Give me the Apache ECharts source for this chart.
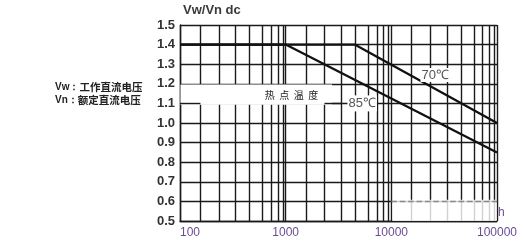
<!DOCTYPE html>
<html>
<head>
<meta charset="utf-8">
<script src="https://cdn.jsdelivr.net/npm/echarts@6/dist/echarts.min.js"></script>
<style>
  html, body { margin: 0; padding: 0; background: #fff; }
  #chart { width: 526px; height: 242px; }
</style>
</head>
<body>
<div id="chart"></div>
<script>
  // 寿命曲线数据 (h / Vw/Vn)
  var xTicks = [100, 1000, 10000, 100000];
  var yTicks = [0.5, 0.6, 0.7, 0.8, 0.9, 1.0, 1.1, 1.2, 1.3, 1.4, 1.5];
  var minorSteps = [1.56, 2.33, 3.35, 4.57, 6.05, 7.33, 8.42, 9.42]; // 每个十倍程内的网格线
  var hours85 = [100, 1000, 100000];
  var ratio85 = [1.4, 1.4, 0.85];
  var hours70 = [100, 4500, 100000];
  var ratio70 = [1.4, 1.4, 1.0];

  var gridColor = '#1a1a1a';
  var gridWidth = 1.4;
  var purple = '#6a4c93';

  function pairs(xs, ys) {
    return xs.map(function (x, i) { return [x, ys[i]]; });
  }

  // 次网格线
  var minorLines = [];
  xTicks.slice(0, -1).forEach(function (d) {
    minorSteps.forEach(function (s) { minorLines.push({ xAxis: d * s }); });
  });

  var myChart = echarts.init(document.getElementById('chart'));
  var option = {
    animation: false,
    title: [
      {
        text: 'Vw/Vn dc', left: 183, top: 4, padding: 0,
        textStyle: { fontFamily: 'Liberation Sans', fontSize: 13, fontWeight: 'bold', color: '#3a3a3a' }
      },
      {
        text: '{a|Vw：}{b|工作直流电压}', left: 55, top: 81, padding: 0,
        textStyle: {
          rich: {
            a: { fontFamily: 'Liberation Sans', fontSize: 10, fontWeight: 'bold', color: '#222', lineHeight: 13 },
            b: { fontFamily: 'Noto Sans CJK SC', fontSize: 10.5, color: '#222', lineHeight: 13 }
          }
        }
      },
      {
        text: '{a|Vn：}{b|额定直流电压}', left: 55, top: 94, padding: 0,
        textStyle: {
          rich: {
            a: { fontFamily: 'Liberation Sans', fontSize: 10, fontWeight: 'bold', color: '#222', lineHeight: 13 },
            b: { fontFamily: 'Noto Sans CJK SC', fontSize: 10.5, color: '#222', lineHeight: 13 }
          }
        }
      }
    ],
    grid: { left: 180, top: 25, width: 317, height: 196 },
    xAxis: {
      type: 'log',
      logBase: 10,
      min: xTicks[0],
      max: xTicks[xTicks.length - 1],
      name: 'h',
      nameLocation: 'end',
      nameGap: 1,
      nameTextStyle: { color: purple, fontFamily: 'Liberation Sans', fontSize: 12, verticalAlign: 'bottom', padding: [0, 0, 2, 0] },
      axisLine: { show: true, lineStyle: { color: gridColor, width: gridWidth } },
      axisTick: { show: false },
      axisLabel: {
        margin: 6,
        color: purple,
        fontFamily: 'Liberation Sans',
        fontSize: 12,
        alignMinLabel: 'left',
        formatter: function (v) { return xTicks.indexOf(v) >= 0 ? String(v) : ''; }
      },
      splitLine: { show: true, lineStyle: { color: gridColor, width: gridWidth } }
    },
    yAxis: {
      type: 'value',
      min: yTicks[0],
      max: yTicks[yTicks.length - 1],
      interval: 0.1,
      axisLine: { show: true, lineStyle: { color: gridColor, width: gridWidth } },
      axisTick: { show: false },
      axisLabel: {
        margin: 5,
        color: '#333',
        fontFamily: 'Liberation Sans',
        fontSize: 13,
        fontWeight: 'bold',
        formatter: function (v) { return v.toFixed(1); }
      },
      splitLine: { show: true, lineStyle: { color: gridColor, width: gridWidth } }
    },
    series: [
      {
        // 次网格
        name: 'grid', type: 'line', data: [], silent: true,
        markLine: {
          z: 1, silent: true, symbol: ['none', 'none'],
          label: { show: false },
          lineStyle: { color: gridColor, width: gridWidth, type: 'solid' },
          data: minorLines
        }
      },
      {
        // 遮盖区域
        name: 'mask', type: 'line', data: [], silent: true,
        markArea: {
          z: 2, silent: true,
          label: { show: false },
          itemStyle: { color: '#fff' },
          data: [
            [{ coord: [101, 1.196] }, { coord: [2750, 1.093] }],
            [{ coord: [10250, 0.608], itemStyle: { color: 'rgba(255,255,255,0.8)' } }, { coord: [99000, 0.485] }]
          ]
        },
        markLine: {
          z: 3, silent: true, symbol: ['none', 'none'],
          label: { show: false },
          lineStyle: { color: gridColor, width: gridWidth, type: 'solid' },
          data: [
            [{ coord: [100, 1.1] }, { coord: [156, 1.1] }],
            [{ coord: [2330, 1.1] }, { coord: [3350, 1.1] }],
            [{ coord: [10000, 0.6], lineStyle: { color: '#8a8a8a', type: 'dashed' } }, { coord: [100000, 0.6] }]
          ]
        }
      },
      {
        name: '85℃', type: 'line', z: 4, symbol: 'none',
        lineStyle: { color: '#111', width: 2.3 },
        data: pairs(hours85, ratio85),
        markPoint: {
          z: 5, silent: true, symbol: 'rect', symbolSize: 1,
          itemStyle: { color: 'rgba(0,0,0,0)' },
          data: [
            {
              coord: [5300, 1.1],
              label: {
                show: true, position: 'inside', formatter: '85℃',
                color: '#555', fontFamily: 'Liberation Sans', fontSize: 13,
                backgroundColor: '#fff', padding: [2, 1, 1, 1]
              }
            },
            {
              coord: [1135, 1.143],
              label: {
                show: true, position: 'inside', formatter: '热  点  温  度',
                color: '#222', fontFamily: 'Noto Sans CJK SC', fontSize: 10
              }
            }
          ]
        }
      },
      {
        name: '70℃', type: 'line', z: 4, symbol: 'none',
        lineStyle: { color: '#111', width: 2.3 },
        data: pairs(hours70, ratio70),
        markPoint: {
          z: 5, silent: true, symbol: 'rect', symbolSize: 1,
          itemStyle: { color: 'rgba(0,0,0,0)' },
          data: [
            {
              coord: [26000, 1.245],
              label: {
                show: true, position: 'inside', formatter: '70℃',
                color: '#555', fontFamily: 'Liberation Sans', fontSize: 13,
                backgroundColor: '#fff', padding: [1, 1, 0, 1]
              }
            }
          ]
        }
      }
    ]
  };
  myChart.setOption(option);
</script>
</body>
</html>
